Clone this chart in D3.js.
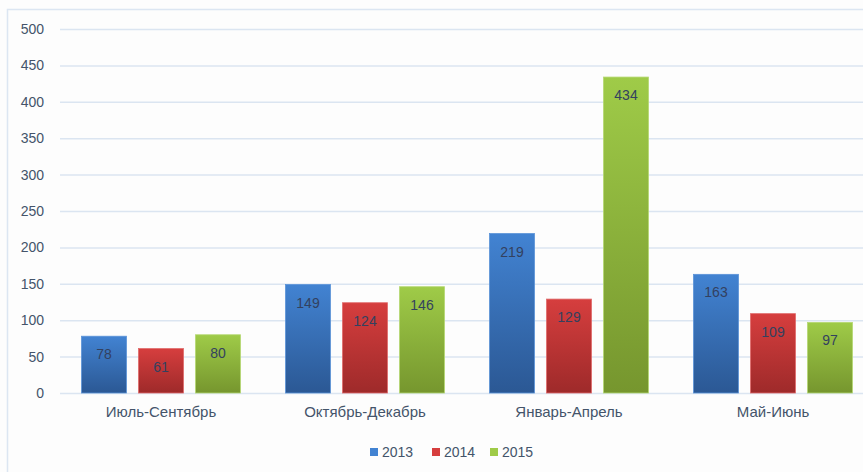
<!DOCTYPE html>
<html>
<head>
<meta charset="utf-8">
<script src="https://cdn.jsdelivr.net/npm/d3@7"></script>
<style>
  html, body { margin: 0; padding: 0; background: #fdfdfd; }
  svg { display: block; }
</style>
</head>
<body>
<svg id="chart" width="863" height="472"></svg>
<script>
// Quarterly figures by year
const categories = ["Июль-Сентябрь", "Октябрь-Декабрь", "Январь-Апрель", "Май-Июнь"];
const years = ["2013", "2014", "2015"];
const values2013 = [78, 149, 219, 163];
const values2014 = [61, 124, 129, 109];
const values2015 = [80, 146, 434, 97];
const yTicks = [0, 50, 100, 150, 200, 250, 300, 350, 400, 450, 500];

const seriesValues = [values2013, values2014, values2015];
const palette = [
  { top: "#4283d2", bottom: "#2b5894", edge: "#5b93d8" },
  { top: "#d63e3e", bottom: "#9e2a2a", edge: "#e06a6a" },
  { top: "#9fcb48", bottom: "#76962e", edge: "#b5d872" }
];
const textColor = "#44546a";
const labelColor = "#33415f";
const font = "'Liberation Sans', Arial, sans-serif";

const svg = d3.select("#chart");

// outer frame
svg.append("path")
  .attr("d", "M7.5,472 L7.5,9.5 L863,9.5")
  .attr("fill", "none")
  .attr("stroke", "#dce6f2")
  .attr("stroke-width", 1.5);

const plot = { left: 59, right: 875, top: 29, bottom: 393 };

const y = d3.scaleLinear().domain([0, 500]).range([plot.bottom, plot.top]);
const x0 = d3.scaleBand().domain(categories).range([plot.left, plot.right]).padding(0);
const x1 = d3.scaleBand().domain(years)
  .range([22.5, x0.bandwidth() - 22.5])
  .paddingInner(0.2105);

// gradients
const defs = svg.append("defs");
palette.forEach((p, i) => {
  const g = defs.append("linearGradient")
    .attr("id", "grad" + i).attr("x1", 0).attr("y1", 0).attr("x2", 0).attr("y2", 1);
  g.append("stop").attr("offset", "0%").attr("stop-color", p.top);
  g.append("stop").attr("offset", "100%").attr("stop-color", p.bottom);
});

// gridlines + y axis
const yAxis = d3.axisLeft(y).tickValues(yTicks).tickSize(0).tickPadding(0);
const yg = svg.append("g").attr("transform", `translate(${plot.left},0)`).call(yAxis);
yg.select(".domain").remove();
yg.selectAll(".tick line").remove();
yg.selectAll(".tick").append("line")
  .attr("x1", 1).attr("x2", 863 - plot.left)
  .attr("stroke", "#dbe5f1").attr("stroke-width", 1.5);
yg.selectAll(".tick text")
  .attr("x", -15)
  .attr("font-family", font).attr("font-size", 14)
  .attr("fill", textColor);

// x axis labels
const xAxis = d3.axisBottom(x0).tickSize(0).tickPadding(13);
const xg = svg.append("g").attr("transform", `translate(0,${plot.bottom})`).call(xAxis);
xg.select(".domain").remove();
xg.selectAll(".tick text")
  .attr("font-family", font).attr("font-size", 15)
  .attr("fill", textColor);

// bars
const groups = svg.append("g").selectAll("g")
  .data(categories)
  .join("g")
  .attr("transform", d => `translate(${x0(d)},0)`);

groups.each(function(cat, ci) {
  const g = d3.select(this);
  years.forEach((yr, si) => {
    const v = seriesValues[si][ci];
    g.append("rect")
      .attr("x", x1(yr)).attr("y", y(v))
      .attr("width", x1.bandwidth()).attr("height", y(0) - y(v))
      .attr("fill", `url(#grad${si})`)
      .attr("stroke", palette[si].edge).attr("stroke-width", 0.8);
    g.append("text")
      .attr("x", x1(yr) + x1.bandwidth() / 2)
      .attr("y", y(v) + 23)
      .attr("text-anchor", "middle")
      .attr("font-family", font).attr("font-size", 14)
      .attr("fill", labelColor)
      .text(v);
  });
});

// legend
const legend = svg.append("g").attr("transform", "translate(370,452)");
const legendX = [0, 62, 120];
years.forEach((yr, i) => {
  const item = legend.append("g").attr("transform", `translate(${legendX[i]},0)`);
  item.append("rect").attr("x", 0).attr("y", -4).attr("width", 8).attr("height", 8)
    .attr("fill", palette[i].top);
  item.append("text").attr("x", 12).attr("y", 5)
    .attr("font-family", font).attr("font-size", 14)
    .attr("fill", textColor).text(yr);
});
</script>
</body>
</html>
